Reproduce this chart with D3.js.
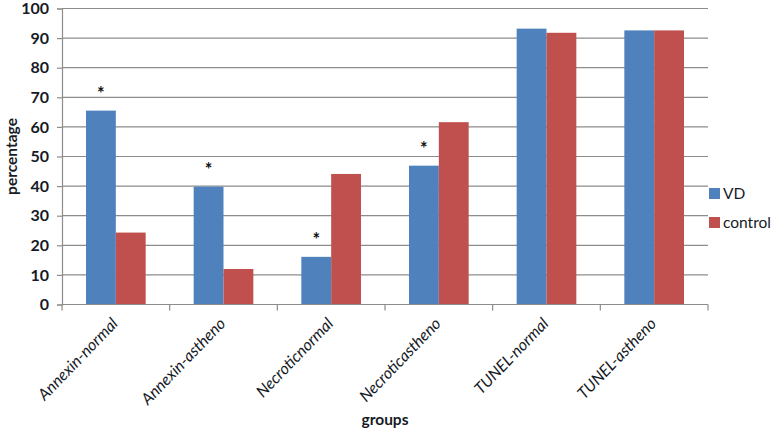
<!DOCTYPE html>
<html>
<head>
<meta charset="utf-8">
<script src="https://cdn.jsdelivr.net/npm/d3@7"></script>
<style>
body { margin: 0; background: #fff; }
svg { font-family: Lato, "Open Sans", sans-serif; }
</style>
</head>
<body>
<svg width="771" height="434"></svg>
<script>
var groups = ["Annexin-normal", "Annexin-astheno", "Necroticnormal", "Necroticastheno", "TUNEL-normal", "TUNEL-astheno"];
var seriesNames = ["VD", "control"];
var vdValues = [65.5, 39.8, 16.1, 46.9, 93.2, 92.6];
var controlValues = [24.3, 12.0, 44.1, 61.6, 91.8, 92.6];
var starred = [true, true, true, true, false, false];
var yTicks = [0, 10, 20, 30, 40, 50, 60, 70, 80, 90, 100];

var colors = {VD: "#4f81bd", control: "#c0504d"};
var gridColor = "#8c8c8c";

var margin = {top: 8.5, left: 62, right: 63, bottom: 129.5},
    width = 771 - margin.left - margin.right,
    height = 434 - margin.top - margin.bottom;

var svg = d3.select("svg"),
    g = svg.append("g").attr("transform", "translate(" + margin.left + "," + margin.top + ")");

var x0 = d3.scaleBand().domain(groups).range([0, width]).paddingInner(0).paddingOuter(0);
var bandPad = 24 / x0.bandwidth();
var x1 = d3.scaleBand().domain(seriesNames).range([bandPad * x0.bandwidth(), x0.bandwidth() * (1 - bandPad)]);
var y = d3.scaleLinear().domain([0, 100]).range([height, 0]);

var rows = groups.map(function(name, i) {
  return {name: name, values: [
    {key: "VD", value: vdValues[i]},
    {key: "control", value: controlValues[i]}
  ], star: starred[i], vd: vdValues[i]};
});

// gridlines
g.append("g").selectAll("line")
  .data(yTicks.filter(function(d) { return d > 0; }))
  .enter().append("line")
    .attr("x1", 0).attr("x2", width)
    .attr("y1", function(d) { return y(d); }).attr("y2", function(d) { return y(d); })
    .attr("stroke", gridColor).attr("stroke-width", 1.2);

// y axis
var yAxis = g.append("g")
  .call(d3.axisLeft(y).tickValues(yTicks).tickSize(5).tickPadding(8));
yAxis.select(".domain").attr("stroke", gridColor).attr("stroke-width", 1.2);
yAxis.selectAll(".tick line").attr("stroke", gridColor).attr("stroke-width", 1.2);
yAxis.selectAll("text")
  .attr("font-family", "Lato, sans-serif")
  .attr("font-size", 16).attr("font-weight", "bold").attr("fill", "#161a26");

// bars
var grp = g.append("g").selectAll("g")
  .data(rows)
  .enter().append("g")
    .attr("transform", function(d) { return "translate(" + x0(d.name) + ",0)"; });

grp.selectAll("rect")
  .data(function(d) { return d.values; })
  .enter().append("rect")
    .attr("x", function(d) { return x1(d.key); })
    .attr("width", x1.bandwidth())
    .attr("y", function(d) { return y(d.value); })
    .attr("height", function(d) { return height - y(d.value); })
    .attr("fill", function(d) { return colors[d.key]; });

// asterisks
grp.filter(function(d) { return d.star; }).append("text")
  .attr("x", x1("VD") + x1.bandwidth() / 2)
  .attr("y", function(d) { return y(d.vd + 6.7) + 9; })
  .attr("text-anchor", "middle")
  .attr("font-size", 18).attr("font-weight", "bold").attr("fill", "#111")
  .text("*");

// x axis
g.append("line")
  .attr("x1", 0).attr("x2", width)
  .attr("y1", height).attr("y2", height)
  .attr("stroke", gridColor).attr("stroke-width", 1.2);

g.append("g").selectAll("line")
  .data(d3.range(groups.length + 1))
  .enter().append("line")
    .attr("x1", function(i) { return i * x0.bandwidth(); })
    .attr("x2", function(i) { return i * x0.bandwidth(); })
    .attr("y1", height).attr("y2", height + 6)
    .attr("stroke", gridColor).attr("stroke-width", 1.2);

g.append("g").selectAll("text")
  .data(groups)
  .enter().append("text")
    .attr("transform", function(d) {
      return "translate(" + (x0(d) + x0.bandwidth() / 2 + 3) + "," + (height + 20) + ") rotate(-46)";
    })
    .attr("text-anchor", "end")
    .attr("font-size", 16).attr("font-style", "italic").attr("fill", "#161a26")
    .text(function(d) { return d; });

// axis titles
svg.append("text")
  .attr("transform", "translate(17," + (margin.top + height / 2) + ") rotate(-90)")
  .attr("text-anchor", "middle")
  .attr("font-size", 15.5).attr("font-weight", "bold").attr("fill", "#161a26")
  .text("percentage");

svg.append("text")
  .attr("x", margin.left + width / 2)
  .attr("y", 425)
  .attr("text-anchor", "middle")
  .attr("font-size", 15.5).attr("font-weight", "bold").attr("fill", "#161a26")
  .text("groups");

// legend
var legend = svg.append("g").selectAll("g")
  .data(seriesNames)
  .enter().append("g")
    .attr("transform", function(d, i) { return "translate(709," + (188 + i * 29) + ")"; });

legend.append("rect")
  .attr("width", 11).attr("height", 11)
  .attr("fill", function(d) { return colors[d]; });

legend.append("text")
  .attr("x", 14).attr("y", 10.5)
  .attr("font-size", 15.5).attr("fill", "#161a26")
  .text(function(d) { return d; });
</script>
</body>
</html>
